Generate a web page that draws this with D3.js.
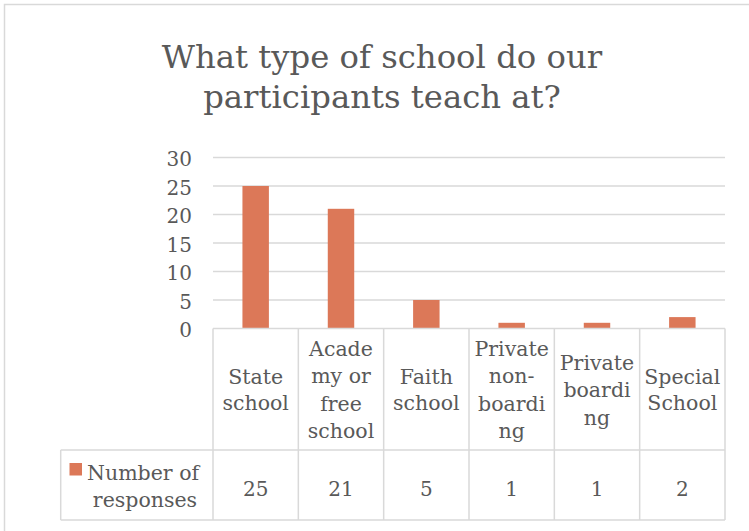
<!DOCTYPE html>
<html>
<head>
<meta charset="utf-8">
<script src="https://cdn.jsdelivr.net/npm/d3@7"></script>
<style>
  html, body { margin: 0; padding: 0; background: #fff; }
  svg { display: block; }
  text { font-family: "DejaVu Serif", serif; fill: #595959; }
</style>
</head>
<body>
<svg id="chart" width="749" height="531"></svg>
<script>
// Survey data: type of school participants teach at
const categories = ["State school", "Academy or free school", "Faith school",
                    "Private non-boarding", "Private boarding", "Special School"];
const headerLines = [["State", "school"], ["Acade", "my or", "free", "school"],
                     ["Faith", "school"], ["Private", "non-", "boardi", "ng"],
                     ["Private", "boardi", "ng"], ["Special", "School"]];
const responses = [25, 21, 5, 1, 1, 2];
const yTicks = [0, 5, 10, 15, 20, 25, 30];
const seriesName = ["Number of", "responses"];
const titleLines = ["What type of school do our", "participants teach at?"];

const svg = d3.select("#chart");
const barColor = "#dc7858";
const lineColor = "#d9d9d9";
const fontStack = "'DejaVu Serif', serif";

const plot = { left: 213, right: 725, top: 157.5, bottom: 328.5 };
const table = { legendLeft: 60.7, headerBottom: 450, bottom: 520 };

// chart area frame
svg.append("rect")
  .attr("x", 4.5).attr("y", 4.5)
  .attr("width", 800).attr("height", 600)
  .attr("fill", "#fff").attr("stroke", lineColor).attr("stroke-width", 1.5);

// title
svg.append("g").selectAll("text").data(titleLines).join("text")
  .attr("x", 382).attr("y", (d, i) => 68 + i * 40)
  .attr("text-anchor", "middle")
  .style("font-size", "32.3px")
  .text(d => d);

const x = d3.scaleBand().domain(categories).range([plot.left, plot.right]);
const y = d3.scaleLinear().domain([0, 30]).range([plot.bottom, plot.top]);

// gridlines
svg.append("g").selectAll("line").data(yTicks.filter(t => t > 0)).join("line")
  .attr("x1", plot.left).attr("x2", plot.right)
  .attr("y1", d => y(d)).attr("y2", d => y(d))
  .attr("stroke", lineColor).attr("stroke-width", 1.5);

// y axis labels
const yAxis = d3.axisLeft(y).tickValues(yTicks).tickSize(0).tickPadding(0);
const yG = svg.append("g").attr("transform", `translate(${plot.left - 21},0)`).call(yAxis);
yG.select(".domain").remove();
yG.selectAll("text")
  .attr("dy", null).attr("y", 8)
  .style("font-family", fontStack)
  .style("font-size", "20px").attr("fill", "#595959");

// bars
const barW = x.bandwidth() * 0.31;
svg.append("g").selectAll("rect").data(responses).join("rect")
  .attr("x", (d, i) => x(categories[i]) + (x.bandwidth() - barW) / 2)
  .attr("width", barW)
  .attr("y", d => y(d))
  .attr("height", d => y(0) - y(d))
  .attr("fill", barColor);

// data table grid
const tg = svg.append("g").attr("stroke", lineColor).attr("stroke-width", 1.5).attr("fill", "none");
tg.append("line").attr("x1", plot.left).attr("x2", plot.right).attr("y1", plot.bottom).attr("y2", plot.bottom);
tg.append("line").attr("x1", table.legendLeft).attr("x2", plot.right).attr("y1", table.headerBottom).attr("y2", table.headerBottom);
tg.append("line").attr("x1", table.legendLeft).attr("x2", plot.right).attr("y1", table.bottom).attr("y2", table.bottom);
tg.append("line").attr("x1", table.legendLeft).attr("x2", table.legendLeft).attr("y1", table.headerBottom).attr("y2", table.bottom);
const bounds = categories.map(c => x(c)).concat([plot.right]);
tg.selectAll("line.v").data(bounds).join("line").attr("class", "v")
  .attr("x1", d => d).attr("x2", d => d)
  .attr("y1", plot.bottom).attr("y2", table.bottom);

// category header cells
const headMid = 397;
categories.forEach((c, i) => {
  const lines = headerLines[i];
  const step = lines.length > 2 ? 27.5 : 25.5;
  const first = headMid - step * (lines.length - 1) / 2;
  svg.append("g").selectAll("text").data(lines).join("text")
    .attr("x", x(c) + x.bandwidth() / 2)
    .attr("y", (d, j) => first + j * step)
    .attr("text-anchor", "middle")
    .style("font-size", "20.5px")
    .text(d => d);
});

// value cells
svg.append("g").selectAll("text").data(responses).join("text")
  .attr("x", (d, i) => x(categories[i]) + x.bandwidth() / 2)
  .attr("y", 496)
  .attr("text-anchor", "middle")
  .style("font-size", "20px")
  .text(d => d);

// legend cell
svg.append("rect").attr("x", 69.5).attr("y", 463).attr("width", 12.5).attr("height", 12.5).attr("fill", barColor);
svg.append("g").selectAll("text").data(seriesName).join("text")
  .attr("x", (d, i) => i === 0 ? 87 : 145)
  .attr("y", (d, i) => 480 + i * 26.5)
  .attr("text-anchor", (d, i) => i === 0 ? "start" : "middle")
  .style("font-size", "20.5px")
  .text(d => d);
</script>
</body>
</html>
